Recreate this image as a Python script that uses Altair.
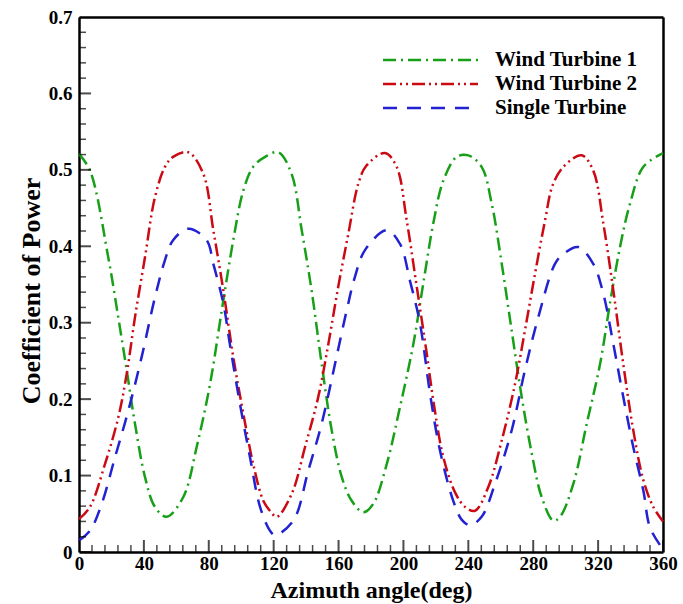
import altair as alt
import pandas as pd

# ---- data ----
series_names = ["Wind Turbine 1", "Wind Turbine 2", "Single Turbine"]

angle_wt1 = [0, 6.8, 18, 24.2, 29.4, 34.5, 40.7, 46.8, 54, 64.3, 72.5, 80.8, 88, 95.1, 101.3,
             107.4, 114.7, 122.9, 131, 137.3, 143.4, 149.6, 155.8, 162, 168.1, 175.3, 181.4,
             189.7, 197.9, 206.1, 212.2, 218.4, 224.6, 232.8, 240, 248.2, 254.4, 260.6, 266.7,
             272.9, 279.1, 285.2, 292.4, 296.5, 304.7, 313, 321.2, 327.3, 333.5, 339.7, 347.9, 360]
cp_wt1 = [0.521, 0.499, 0.386, 0.307, 0.238, 0.168, 0.098, 0.059, 0.046, 0.072, 0.137, 0.220,
          0.316, 0.408, 0.473, 0.504, 0.517, 0.523, 0.495, 0.421, 0.342, 0.246, 0.159, 0.098,
          0.067, 0.052, 0.063, 0.115, 0.190, 0.272, 0.351, 0.430, 0.486, 0.517, 0.519, 0.504,
          0.456, 0.377, 0.290, 0.203, 0.129, 0.072, 0.041, 0.046, 0.089, 0.168, 0.246, 0.325,
          0.399, 0.456, 0.504, 0.522]

angle_wt2 = [0, 6.8, 16, 24.2, 29.4, 34.5, 40.7, 46.8, 53, 58, 67.4, 76.6, 82.8, 89, 95.1,
             101.3, 107.4, 113.6, 117.7, 121.9, 131.1, 139.3, 147.5, 153.7, 159.8, 166, 172.2,
             177, 188.6, 195.8, 202, 208, 214, 219, 224.6, 231.8, 238, 244.1, 252.3, 260.6,
             268.8, 274.9, 281.1, 287.3, 292, 298.6, 309.9, 317, 323.2, 329.4, 335.5, 341.7,
             347.9, 354, 360]
cp_wt2 = [0.043, 0.059, 0.115, 0.176, 0.233, 0.307, 0.386, 0.464, 0.504, 0.517, 0.523, 0.495,
          0.421, 0.342, 0.255, 0.181, 0.115, 0.067, 0.054, 0.046, 0.076, 0.137, 0.203, 0.272,
          0.347, 0.416, 0.482, 0.505, 0.522, 0.504, 0.434, 0.350, 0.265, 0.190, 0.124, 0.078,
          0.059, 0.054, 0.085, 0.146, 0.220, 0.290, 0.364, 0.434, 0.480, 0.504, 0.519, 0.499,
          0.430, 0.342, 0.246, 0.159, 0.094, 0.059, 0.040]

angle_single = [0, 6.8, 14, 22.2, 30.4, 38.6, 46.8, 53, 58, 67.4, 78.7, 82.8, 89, 93, 99.2,
                105.4, 111.6, 117.7, 120.8, 132.1, 141.4, 149.6, 157.8, 165, 170.1, 176.3,
                189.7, 197.9, 204, 210.2, 216.4, 222.5, 230.7, 236, 241, 248.2, 256.4, 266.7,
                274.9, 283.1, 293.4, 298.6, 307.8, 317, 323.2, 329.4, 335.5, 341.7, 347.9, 352,
                359.2]
cp_single = [0.015, 0.028, 0.063, 0.124, 0.185, 0.255, 0.333, 0.382, 0.408, 0.423, 0.408,
             0.377, 0.325, 0.272, 0.194, 0.124, 0.059, 0.028, 0.022, 0.041, 0.107, 0.168,
             0.246, 0.316, 0.360, 0.395, 0.421, 0.403, 0.355, 0.299, 0.207, 0.133, 0.067,
             0.042, 0.035, 0.046, 0.089, 0.159, 0.238, 0.307, 0.377, 0.390, 0.399, 0.377,
             0.338, 0.272, 0.203, 0.137, 0.080, 0.032, 0.006]

x_major = [0, 40, 80, 120, 160, 200, 240, 280, 320, 360]
x_minor = [8, 16, 24, 32, 48, 56, 64, 72, 88, 96, 104, 112, 128, 136, 144, 152, 168, 176, 184,
           192, 208, 216, 224, 232, 248, 256, 264, 272, 288, 296, 304, 312, 328, 336, 344, 352]
y_major = [0, 0.1, 0.2, 0.3, 0.4, 0.5, 0.6, 0.7]
y_minor = [0.02, 0.04, 0.06, 0.08, 0.12, 0.14, 0.16, 0.18, 0.22, 0.24, 0.26, 0.28, 0.32, 0.34,
           0.36, 0.38, 0.42, 0.44, 0.46, 0.48, 0.52, 0.54, 0.56, 0.58, 0.62, 0.64, 0.66, 0.68]

# ---- styling ----
colors = ["#17a017", "#cc0a14", "#2222d2"]
dashes = [[13, 5, 2, 5], [13, 4, 2, 4, 2, 4], [14, 10]]
FONT = "Liberation Serif"
W, H = 584, 535

# one shared table: the curves plus the tick positions
rows = []
for name, xs_, ys_ in zip(series_names, [angle_wt1, angle_wt2, angle_single],
                          [cp_wt1, cp_wt2, cp_single]):
    for a, v in zip(xs_, ys_):
        rows.append({"kind": "curve", "series": name, "angle": a, "cp": v})
for v in x_major:
    rows.append({"kind": "xmajor", "series": "", "angle": v, "cp": 0.0})
for v in x_minor:
    rows.append({"kind": "xminor", "series": "", "angle": v, "cp": 0.0})
for v in y_major:
    rows.append({"kind": "ymajor", "series": "", "angle": 0.0, "cp": v})
for v in y_minor:
    rows.append({"kind": "yminor", "series": "", "angle": 0.0, "cp": v})
df = pd.DataFrame(rows)

xs = alt.Scale(domain=[0, 360], nice=False, zero=False)
ys = alt.Scale(domain=[0, 0.7], nice=False, zero=False)

frame = dict(domain=True, domainColor="black", domainWidth=2.5, grid=False)

x_axis = alt.Axis(
    values=x_major, ticks=False, tickSize=0, format="d",
    labelFont=FONT, labelFontSize=19, labelFontWeight="bold", labelColor="black",
    labelPadding=2, labelFlush=False,
    title="Azimuth angle(deg)", titleFont=FONT, titleFontSize=24, titleFontWeight="bold",
    titleColor="black", titleX=W / 2, titleY=45, titleBaseline="alphabetic",
    titleAlign="center", **frame)
y_axis = alt.Axis(
    values=y_major, ticks=False, tickSize=0, format=".1~f",
    labelFont=FONT, labelFontSize=19, labelFontWeight="bold", labelColor="black",
    labelPadding=7, labelFlush=False,
    title="Coefficient of Power", titleFont=FONT, titleFontSize=26, titleFontWeight="bold",
    titleColor="black", titleX=-48, titleY=H / 2 + 6, titleAngle=270, titleAlign="center",
    titleBaseline="middle", **frame)

base = alt.Chart(df)

lines = base.transform_filter(alt.datum.kind == "curve").mark_line(
    strokeWidth=2.5, interpolate="catmull-rom").encode(
    x=alt.X("angle:Q", scale=xs, axis=x_axis),
    y=alt.Y("cp:Q", scale=ys, axis=y_axis),
    color=alt.Color("series:N", scale=alt.Scale(domain=series_names, range=colors),
                    legend=None),
    strokeDash=alt.StrokeDash("series:N", scale=alt.Scale(domain=series_names, range=dashes),
                              legend=None),
)


# inward tick marks, drawn through the shared scales and clipped to the plot area
def ticks(kind, size, thick):
    sub = base.transform_filter(alt.datum.kind == kind)
    if kind.startswith("x"):
        return sub.mark_tick(clip=True, color="black", thickness=thick, size=size,
                             orient="vertical").encode(
            x=alt.X("angle:Q", scale=xs, axis=None), y=alt.value(H))
    return sub.mark_tick(clip=True, color="black", thickness=thick, size=size,
                         orient="horizontal").encode(
        y=alt.Y("cp:Q", scale=ys, axis=None), x=alt.value(0))


# top and right frame lines
def frame_axis(channel):
    d = pd.DataFrame({"t": [0]})
    common = dict(ticks=False, labels=False, title=None, **frame)
    if channel == "x":
        return alt.Chart(d).mark_point(opacity=0).encode(
            x=alt.X("t:Q", scale=xs, axis=alt.Axis(orient="top", **common)))
    return alt.Chart(d).mark_point(opacity=0).encode(
        y=alt.Y("t:Q", scale=ys, axis=alt.Axis(orient="right", **common)))


# manual legend (inside the plot, top right)
df_leg = pd.DataFrame({"series": series_names})
legend_layers = []
legend_rows_y = [43, 67, 91]
for name, col, dash, ly in zip(series_names, colors, dashes, legend_rows_y):
    one = alt.Chart(df_leg).transform_filter(alt.datum.series == name)
    legend_layers.append(
        one.mark_rule(color=col, strokeWidth=2.5, strokeDash=dash).encode(
            x=alt.value(304), x2=alt.value(399), y=alt.value(ly)))
    legend_layers.append(
        one.mark_text(align="left", baseline="middle", font=FONT, fontSize=21,
                      fontWeight="bold", color="black").encode(
            x=alt.value(416), y=alt.value(ly), text="series:N"))

chart = alt.layer(
    lines,
    ticks("xmajor", 24, 2), ticks("xminor", 14, 1.5),
    ticks("ymajor", 24, 2), ticks("yminor", 14, 1.5),
    frame_axis("x"), frame_axis("y"),
    *legend_layers,
).resolve_axis(
    x="independent", y="independent"
).properties(
    width=W, height=H, background="white",
    autosize=alt.AutoSizeParams(type="none"),
    padding={"left": 79, "top": 17, "right": 20, "bottom": 52},
)

chart.save("out.html", embed_options={"renderer": "svg", "actions": False})
